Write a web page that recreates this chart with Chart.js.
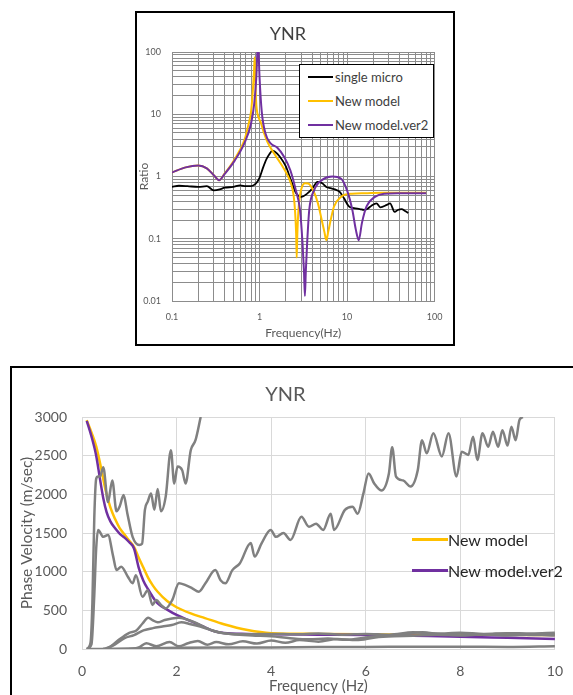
<!DOCTYPE html>
<html lang="en">
<head>
<meta charset="utf-8">
<title>YNR</title>
<script src="https://cdn.jsdelivr.net/npm/chart.js@4.4.1/dist/chart.umd.min.js"></script>
<style>
  html, body { margin: 0; padding: 0; background: #fff; overflow: hidden; }
  body { width: 573px; height: 695px; position: relative; font-family: Lato, "Open Sans", sans-serif; }
  .frame { position: absolute; border: 2px solid #000; background: #fff; }
  .frame canvas { display: block; }
  #frame-ratio { left: 135px; top: 11px; width: 316px; height: 331px; }
  #frame-velo  { left: 10px; top: 366px; width: 565px; height: 340px; }

  .legend { position: absolute; }
  .legend-row { display: flex; align-items: center; white-space: nowrap; }
  .legend-line { display: inline-block; }

  #legend-ratio {
    left: 299px; top: 64px; width: 133px; height: 72px;
    border: 1.5px solid #000; background: #fff;
    font-size: 13px; color: #404040;
  }
  #legend-ratio .legend-row  { height: 24px; padding-left: 8px; }
  #legend-ratio .legend-line { width: 25px; height: 2.5px; margin-right: 2px; }

  #legend-velo { left: 412px; top: 524px; font-size: 16px; color: #262626; }
  #legend-velo .legend-row  { height: 31px; }
  #legend-velo .legend-line { width: 36px; height: 2.5px; }
</style>
</head>
<body>

<div class="frame" id="frame-ratio"><canvas id="chartRatio" width="316" height="331"></canvas></div>
<div class="legend" id="legend-ratio"></div>

<div class="frame" id="frame-velo"><canvas id="chartVelo" width="565" height="340"></canvas></div>
<div class="legend" id="legend-velo"></div>

<script>
/* ================================================
   YNR — spectral ratio (top) and phase velocity (bottom)
   ================================================ */

/* ---- top chart : axes ---- */
const ratioMajors = [0.01, 0.1, 1, 10, 100];
const freqMajors  = [0.1, 1, 10, 100];
const logSteps    = [1, 2, 3, 4, 5, 6, 7, 8, 9];

/* ---- top chart : single micro ---- */
const microFreq  = [0.1, 0.12, 0.15, 0.2, 0.25, 0.3, 0.35, 0.4, 0.5, 0.6,
                    0.7, 0.8, 0.9, 1.0, 1.1, 1.2, 1.3, 1.4, 1.5, 1.7,
                    2.0, 2.3, 2.6, 3.0, 3.5, 4.0, 4.6, 5.2, 5.8, 6.5,
                    7.3, 8.2, 9.2, 10.5, 12, 14, 15.6, 17, 19, 21.7,
                    24, 28.5, 31, 35, 38, 42, 46, 50];
const microRatio = [0.68, 0.71, 0.70, 0.68, 0.70, 0.60, 0.62, 0.66, 0.68, 0.72,
                    0.70, 0.70, 0.76, 0.95, 1.4, 1.9, 2.3, 2.6, 2.5, 2.1,
                    1.45, 0.85, 0.55, 0.47, 0.53, 0.64, 0.82, 0.78, 0.68, 0.65,
                    0.62, 0.57, 0.45, 0.33, 0.31, 0.30, 0.29, 0.30, 0.34, 0.37,
                    0.32, 0.35, 0.37, 0.27, 0.29, 0.30, 0.28, 0.26];

/* ---- top chart : New model ---- */
const newFreq  = [0.1, 0.143, 0.2, 0.25, 0.3, 0.345, 0.4, 0.52, 0.67, 0.75,
                  0.8, 0.84, 0.865, 0.88, 0.895, 0.91, 0.93, 0.97, 1.03, 1.1,
                  1.23, 1.45, 1.73, 2.05, 2.3, 2.45, 2.55, 2.62, 2.66, 2.7,
                  2.78, 2.9, 3.1, 3.3, 3.6, 4.1, 4.65, 5.1, 5.5, 5.8,
                  6.1, 6.5, 7.1, 8.5, 11.4, 16, 25, 40, 80];
const newRatio = [1.16, 1.40, 1.5, 1.35, 1.05, 0.87, 1.12, 1.9, 3.8, 7,
                  11, 25, 50, 82, 40, 18, 12, 9, 7.5, 5.5,
                  3.6, 2.4, 1.65, 1.1, 0.75, 0.5, 0.27, 0.12, 0.05, 0.11,
                  0.28, 0.5, 0.72, 0.78, 0.77, 0.6, 0.37, 0.21, 0.13, 0.095,
                  0.13, 0.2, 0.33, 0.47, 0.53, 0.54, 0.55, 0.55, 0.55];

/* ---- top chart : New model.ver2 ---- */
const ver2Freq  = [0.1, 0.143, 0.2, 0.25, 0.3, 0.345, 0.4, 0.52, 0.67, 0.8,
                   0.87, 0.92, 0.945, 0.96, 0.975, 1.0, 1.06, 1.17, 1.34, 1.6,
                   1.9, 2.25, 2.6, 2.9, 3.1, 3.22, 3.3, 3.38, 3.5, 3.7,
                   4.2, 5.3, 6.8, 8.5, 10, 11.5, 12.6, 13.6, 14.8, 16.7,
                   20.8, 26.5, 38, 80];
const ver2Ratio = [1.16, 1.40, 1.5, 1.35, 1.05, 0.87, 1.1, 1.8, 3.4, 7.1,
                   14.8, 40, 100, 120, 100, 40, 11, 4.9, 3.4, 2.9,
                   2.1, 1.26, 0.6, 0.29, 0.085, 0.03, 0.012, 0.03, 0.085, 0.29,
                   0.6, 0.9, 1.0, 0.93, 0.6, 0.29, 0.14, 0.095, 0.18, 0.33,
                   0.47, 0.53, 0.54, 0.54];

/* ---- bottom chart : axes ---- */
const veloXTicks = [0, 2, 4, 6, 8, 10];
const veloYTicks = [0, 500, 1000, 1500, 2000, 2500, 3000];

/* ---- bottom chart : observed curves (grey) ---- */
const g1Freq = [0.1, 0.18, 0.22, 0.26, 0.3, 0.34, 0.38, 0.45, 0.55, 0.64,
                0.73, 0.8, 0.88, 0.96, 1.07, 1.21, 1.27, 1.33, 1.39, 1.46,
                1.53, 1.6, 1.67, 1.77, 1.88, 1.95, 2.02, 2.12, 2.19, 2.3,
                2.4, 2.51];
const g1Vel  = [0, 80, 600, 1700, 2200, 2230, 2230, 2350, 1900, 2180,
                1780, 1850, 1990, 1750, 1450, 1345, 1360, 1800, 1905, 2010,
                1800, 2070, 1780, 1970, 2570, 2140, 2360, 2310, 2140, 2570,
                2700, 3000];

const g2Freq = [0.1, 0.2, 0.26, 0.3, 0.34, 0.45, 0.55, 0.66, 0.73, 0.83,
                0.97, 1.07, 1.14, 1.28, 1.39, 1.49, 1.57, 1.67, 1.77, 1.91,
                2.05, 2.19, 2.33, 2.47, 2.61, 2.82, 2.93, 3.03, 3.18, 3.34,
                3.57, 3.65, 3.8, 3.99, 4.1, 4.26, 4.41, 4.64, 4.8, 4.95,
                5.1, 5.26, 5.33, 5.56, 5.72, 5.83, 5.95, 6.06, 6.18, 6.33,
                6.49, 6.56, 6.64, 6.79, 6.95, 7.1, 7.19, 7.29, 7.43, 7.61,
                7.75, 7.92, 8.03, 8.17, 8.27, 8.36, 8.47, 8.59, 8.69, 8.8,
                8.89, 9.0, 9.08, 9.17, 9.25, 9.32];
const g2Vel  = [0, 60, 700, 1300, 1540, 1450, 1475, 1195, 1020, 1065,
                935, 850, 955, 675, 760, 570, 635, 570, 525, 635,
                850, 825, 785, 740, 850, 1020, 890, 850, 1020, 1110,
                1370, 1195, 1370, 1540, 1450, 1500, 1410, 1710, 1580, 1620,
                1540, 1750, 1540, 1800, 1840, 1750, 2010, 2270, 2140, 2050,
                2270, 2610, 2230, 2180, 2100, 2310, 2700, 2530, 2790, 2490,
                2790, 2230, 2550, 2510, 2745, 2445, 2790, 2615, 2810, 2615,
                2830, 2630, 2875, 2700, 2960, 3000];

const g3Freq = [0.45, 0.6, 0.8, 1.0, 1.15, 1.28, 1.4, 1.5, 1.6, 1.75,
                1.9, 2.05, 2.2, 2.4, 2.6, 2.8, 3.0, 3.5, 4.0, 4.5,
                5.0, 5.5, 6.0, 6.5, 7.0, 7.5, 8.0, 8.5, 9.0, 9.5, 10];
const g3Vel  = [0, 30, 130, 210, 240, 330, 405, 370, 345, 375,
                395, 405, 385, 340, 280, 230, 205, 190, 195, 190,
                200, 185, 195, 185, 215, 200, 210, 195, 205, 200, 210];

const g4Freq = [0.5, 0.7, 0.9, 1.1, 1.3, 1.5, 1.7, 1.9, 2.1, 2.3,
                2.5, 2.7, 2.9, 3.2, 3.6, 4.0, 4.4, 4.8, 5.2, 5.6,
                6.0, 6.4, 6.8, 7.2, 7.6, 8.0, 8.5, 9.0, 9.5, 10];
const g4Vel  = [0, 60, 140, 180, 240, 270, 290, 310, 345, 320,
                290, 250, 215, 190, 175, 165, 140, 125, 135, 120,
                150, 175, 190, 215, 190, 200, 185, 200, 180, 190];

const g5Freq = [1.0, 1.2, 1.36, 1.57, 1.85, 2.05, 2.24, 2.45, 2.65, 2.84,
                3.1, 3.4, 3.7, 4.0, 4.3, 4.6, 5.0, 5.4, 5.8, 6.2,
                6.6, 7.0, 7.5, 8.0, 8.5, 9.0, 9.5, 10];
const g5Vel  = [0, 20, 75, 35, 90, 35, 75, 105, 55, 90,
                60, 100, 70, 110, 80, 115, 95, 130, 115, 150,
                165, 170, 185, 175, 190, 175, 185, 175];

const g6Freq = [0.1, 1, 2, 3, 4, 5, 6, 7, 8, 9, 10];
const g6Vel  = [0, 5, 15, 20, 20, 25, 25, 30, 30, 25, 35];

/* ---- bottom chart : models ---- */
const newVFreq = [0.1, 0.2, 0.3, 0.4, 0.5, 0.6, 0.7, 0.8, 0.9, 1.0,
                  1.1, 1.2, 1.3, 1.4, 1.5, 1.6, 1.8, 2.0, 2.3, 2.6,
                  3.0, 3.5, 4.0, 5, 6, 7, 8, 9, 10];
const newVel   = [2960, 2800, 2620, 2350, 2050, 1830, 1680, 1560, 1480, 1400,
                  1320, 1180, 1050, 920, 820, 740, 620, 540, 460, 400,
                  320, 245, 205, 195, 190, 185, 185, 185, 180];

const ver2VFreq = [0.1, 0.2, 0.3, 0.38, 0.45, 0.52, 0.6, 0.7, 0.8, 0.9,
                   1.0, 1.1, 1.2, 1.3, 1.4, 1.5, 1.6, 1.8, 2.0, 2.3,
                   2.6, 2.8, 3.0, 3.5, 4, 5, 6, 7, 8, 9, 10];
const ver2Vel   = [2950, 2750, 2500, 2200, 1950, 1770, 1650, 1560, 1490, 1440,
                   1380, 1300, 1050, 880, 770, 670, 590, 510, 440, 360,
                   280, 230, 208, 195, 190, 185, 180, 170, 160, 145, 130];

/* ---- colours ---- */
const YELLOW = '#FFC000';
const PURPLE = '#7030A0';
const GREY   = '#808080';

/* ================================================ */

Chart.defaults.font.family = 'Lato, "Open Sans", sans-serif';
Chart.defaults.animation = false;

function pairs(xs, ys) {
  return xs.map(function (x, i) { return { x: x, y: ys[i] }; });
}

/* 1..9 x 10^n ticks between the major decades */
function logTicks(majors) {
  const out = [];
  majors.forEach(function (m, i) {
    if (i === majors.length - 1) { out.push({ value: m }); return; }
    logSteps.forEach(function (s) { out.push({ value: +(m * s).toPrecision(6) }); });
  });
  return out;
}

function majorLabel(majors) {
  return function (value) { return majors.indexOf(value) >= 0 ? String(value) : ''; };
}

function buildLegend(el, datasets) {
  datasets.forEach(function (ds) {
    if (!ds.label) return;
    const row = document.createElement('div');
    row.className = 'legend-row';
    row.innerHTML = '<span class="legend-line" style="background:' + ds.borderColor + '"></span>' +
                    '<span>' + ds.label + '</span>';
    el.appendChild(row);
  });
}

/* ════════════════════════════════════════════
   TOP — spectral ratio, log / log
════════════════════════════════════════════ */
const ratioSets = [
  { label: 'single micro',     data: pairs(microFreq, microRatio), borderColor: '#000000', borderWidth: 1.8, order: 2 },
  { label: 'New model',        data: pairs(newFreq, newRatio),     borderColor: YELLOW,    borderWidth: 2,   order: 1 },
  { label: 'New model.ver2',   data: pairs(ver2Freq, ver2Ratio),   borderColor: PURPLE,    borderWidth: 2,   order: 0 }
];

const gridTop = { color: '#8c8c8c', lineWidth: 1, drawTicks: false };

new Chart(document.getElementById('chartRatio'), {
  type: 'line',
  data: { datasets: ratioSets },
  options: {
    responsive: false,
    elements: { point: { radius: 0 }, line: { cubicInterpolationMode: 'monotone' } },
    layout: { padding: { left: 0, right: 14, top: 0, bottom: 0 } },
    plugins: {
      legend: { display: false },
      tooltip: { enabled: false },
      title: {
        display: true, text: 'YNR', color: '#404040',
        font: { size: 18, weight: 'normal' },
        padding: { top: 10.5, bottom: 6.9 }
      }
    },
    scales: {
      x: {
        type: 'logarithmic', min: 0.1, max: 100,
        grid: gridTop, border: { color: '#8c8c8c' },
        afterBuildTicks: function (s) { s.ticks = logTicks(freqMajors); },
        afterFit: function (s) { s.height = 43; },
        ticks: { autoSkip: false, maxRotation: 0, padding: 10.6, color: '#595959',
                 font: { size: 9 }, callback: majorLabel(freqMajors) },
        title: { display: true, text: 'Frequency(Hz)', color: '#595959',
                 font: { size: 12 }, padding: { top: 0, bottom: 3.5 } }
      },
      y: {
        type: 'logarithmic', min: 0.01, max: 100,
        grid: gridTop, border: { color: '#8c8c8c' },
        afterBuildTicks: function (s) { s.ticks = logTicks(ratioMajors); },
        afterFit: function (s) { s.width = 35; },
        ticks: { autoSkip: false, padding: 11, color: '#595959',
                 font: { size: 9 }, callback: majorLabel(ratioMajors) },
        title: { display: true, text: 'Ratio', color: '#595959',
                 font: { size: 12 }, padding: { top: 0, bottom: 0 } }
      }
    }
  }
});

buildLegend(document.getElementById('legend-ratio'), ratioSets);

/* ════════════════════════════════════════════
   BOTTOM — phase velocity
════════════════════════════════════════════ */
const greyLine = { label: '', borderColor: GREY, borderWidth: 2.5, order: 0 };

const veloSets = [
  Object.assign({}, greyLine, { data: pairs(g1Freq, g1Vel) }),
  Object.assign({}, greyLine, { data: pairs(g2Freq, g2Vel) }),
  Object.assign({}, greyLine, { data: pairs(g3Freq, g3Vel) }),
  Object.assign({}, greyLine, { data: pairs(g4Freq, g4Vel) }),
  Object.assign({}, greyLine, { data: pairs(g5Freq, g5Vel) }),
  Object.assign({}, greyLine, { data: pairs(g6Freq, g6Vel) }),
  { label: 'New model',      data: pairs(newVFreq, newVel),   borderColor: YELLOW, borderWidth: 2.5, order: 2 },
  { label: 'New model.ver2', data: pairs(ver2VFreq, ver2Vel), borderColor: PURPLE, borderWidth: 2.5, order: 1 }
];

const gridBottom = { color: '#d9d9d9', lineWidth: 1, drawTicks: false };

new Chart(document.getElementById('chartVelo'), {
  type: 'line',
  data: { datasets: veloSets },
  options: {
    responsive: false,
    elements: { point: { radius: 0 }, line: { cubicInterpolationMode: 'monotone' } },
    layout: { padding: { left: 0, right: 18, top: 0, bottom: 0 } },
    plugins: {
      legend: { display: false },
      tooltip: { enabled: false },
      title: {
        display: true, text: 'YNR', color: '#595959',
        font: { size: 20, weight: 'normal' },
        padding: { top: 14.5, bottom: 10.5 }
      }
    },
    scales: {
      x: {
        type: 'linear', min: 0, max: 10,
        grid: gridBottom, border: { color: '#d9d9d9' },
        afterBuildTicks: function (s) { s.ticks = veloXTicks.map(v => ({ value: v })); },
        afterFit: function (s) { s.height = 59; },
        ticks: { autoSkip: false, maxRotation: 0, padding: 14, color: '#595959', font: { size: 14 },
                 callback: function (v) { return String(v); } },
        title: { display: true, text: 'Frequency (Hz)', color: '#595959',
                 font: { size: 15 }, padding: { top: 0, bottom: 13 } }
      },
      y: {
        type: 'linear', min: 0, max: 3000,
        grid: gridBottom, border: { color: '#d9d9d9' },
        afterBuildTicks: function (s) { s.ticks = veloYTicks.map(v => ({ value: v })); },
        afterFit: function (s) { s.width = 70; },
        ticks: { autoSkip: false, padding: 15, color: '#595959', font: { size: 14 },
                 callback: function (v) { return String(v); } },
        title: { display: true, text: 'Phase Velocity (m/sec)', color: '#595959',
                 font: { size: 15.5 }, padding: { top: 6, bottom: 0 } }
      }
    }
  }
});

buildLegend(document.getElementById('legend-velo'), veloSets);
</script>
</body>
</html>
